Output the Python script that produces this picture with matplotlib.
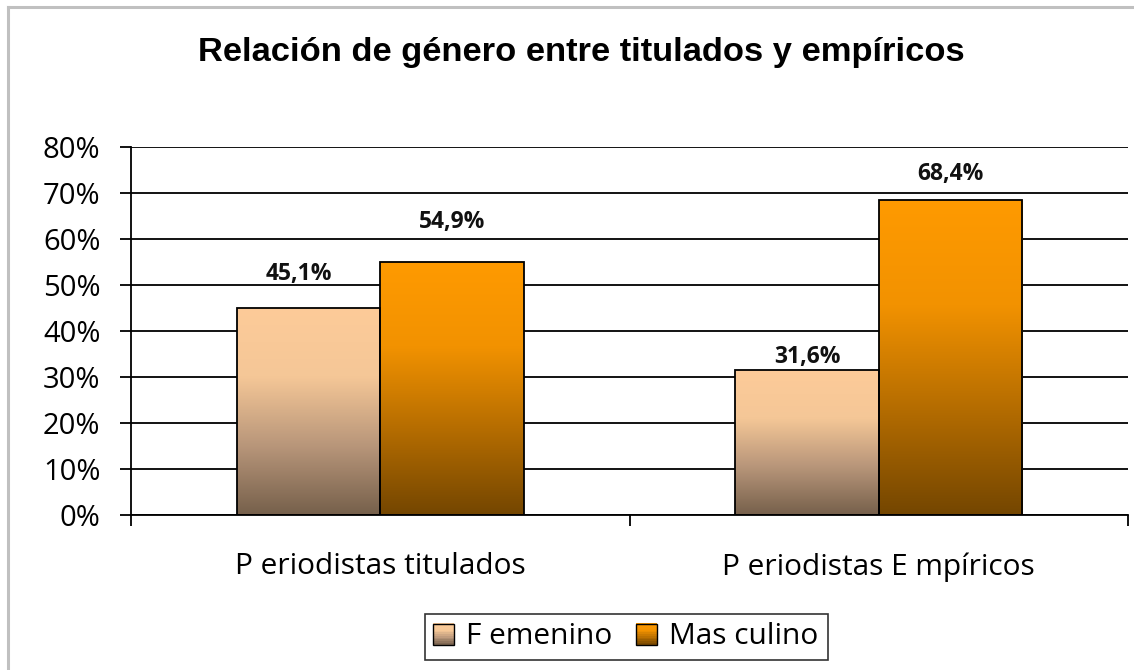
import numpy as np
import matplotlib
matplotlib.use("Agg")
from matplotlib import pyplot as plt
from matplotlib.colors import LinearSegmentedColormap
from matplotlib.patches import Rectangle
from matplotlib.legend_handler import HandlerPatch
from matplotlib.lines import Line2D

categories = ["P eriodistas titulados", "P eriodistas E mpíricos"]
series_names = ["F emenino", "Mas culino"]
femenino = [45.1, 31.6]
masculino = [54.9, 68.4]
yticks = [0, 10, 20, 30, 40, 50, 60, 70, 80]

# label placement (points) as the original chart had them hand-placed
fem_label_offsets = [(-7, 19.5), (0, 5)]
mas_label_offsets = [(0, 24.5), (0, 15)]

grad_fem = LinearSegmentedColormap.from_list("fem", ["#76604B", "#B8967A", "#F5C797", "#FDCB99"])
grad_mas = LinearSegmentedColormap.from_list("mas", ["#744600", "#B46C00", "#F29200", "#FF9A00"])
TEXT_FONT = ["Open Sans", "DejaVu Sans"]


def fill_gradient(ax, bar, cmap):
    x0, y0 = bar.get_x(), bar.get_y()
    w, h = bar.get_width(), bar.get_height()
    grad = np.linspace(0, 1, 256).reshape(-1, 1)
    im = ax.imshow(grad, cmap=cmap, origin="lower", aspect="auto",
                   extent=(x0, x0 + w, y0, y0 + h), zorder=2.5, interpolation="bilinear")
    im.set_clip_path(bar)


class GradientHandler(HandlerPatch):
    def __init__(self, cmap):
        super().__init__()
        self.cmap = cmap

    def create_artists(self, legend, orig_handle, xdescent, ydescent, width, height, fontsize, trans):
        size = height * 1.0
        x0 = -xdescent + (width - size) / 2
        y0 = -ydescent + (height - size) / 2
        arts = []
        n = 12
        for i in range(n):
            r = Rectangle((x0, y0 + size * i / n), size, size / n + 0.2,
                          facecolor=self.cmap((i + 0.5) / n), edgecolor="none", transform=trans)
            arts.append(r)
        arts.append(Rectangle((x0, y0), size, size, facecolor="none", edgecolor="black",
                              linewidth=1.0, transform=trans))
        return arts


fig = plt.figure(figsize=(11.34, 6.70), dpi=100)
ax = fig.add_axes([131 / 1134, 1 - 515 / 670, (1128 - 131) / 1134, (515 - 147) / 670])

x = np.arange(len(categories)) + 0.5
w = 0.288
bars_f = ax.bar(x - w / 2, femenino, w, facecolor="none", edgecolor="black", linewidth=1.3, zorder=3)
bars_m = ax.bar(x + w / 2, masculino, w, facecolor="none", edgecolor="black", linewidth=1.3, zorder=3)

for b in bars_f:
    fill_gradient(ax, b, grad_fem)
for b in bars_m:
    fill_gradient(ax, b, grad_mas)

for bars, vals, offs in ((bars_f, femenino, fem_label_offsets), (bars_m, masculino, mas_label_offsets)):
    for b, v, off in zip(bars, vals, offs):
        ax.annotate(f"{v:.1f}%".replace(".", ","), (b.get_x() + b.get_width() / 2, b.get_height()),
                    xytext=off, textcoords="offset points", ha="center", va="baseline",
                    fontsize=16.5, fontweight="bold", family=TEXT_FONT, color="#111111")

ax.set_xlim(0, len(categories))
ax.set_ylim(0, 80)
ax.set_yticks(yticks)
ax.set_yticklabels([f"{t}%" for t in yticks], family=TEXT_FONT, fontsize=21)
ax.yaxis.grid(True, color="black", linewidth=1.3)
ax.set_axisbelow(True)

ax.set_xticks(np.arange(len(categories) + 1))
ax.set_xticklabels([])
ax.set_xticks(x, minor=True)
ax.set_xticklabels(categories, minor=True, family=TEXT_FONT, fontsize=21.5)
ax.tick_params(axis="x", which="minor", length=0, pad=27)
ax.tick_params(axis="x", which="major", length=8, width=1.3, direction="out")
ax.tick_params(axis="y", length=8, width=1.3, direction="out", pad=14)

for s in ("top", "right"):
    ax.spines[s].set_visible(False)
for s in ("left", "bottom"):
    ax.spines[s].set_linewidth(1.3)

fig.text(581 / 1134, 1 - 53 / 670, "Relación de género entre titulados y empíricos",
         ha="center", va="center", fontsize=24.8, fontweight="bold", family="Liberation Sans")

h1 = Rectangle((0, 0), 1, 1)
h2 = Rectangle((0, 0), 1, 1)
leg = fig.legend([h1, h2], series_names, loc="center", bbox_to_anchor=(626 / 1134, 1 - 637 / 670),
                 ncol=2, frameon=True, fancybox=False, prop={"family": TEXT_FONT, "size": 21.5},
                 handler_map={h1: GradientHandler(grad_fem), h2: GradientHandler(grad_mas)},
                 handlelength=0.7, handleheight=0.7, handletextpad=0.4, columnspacing=0.8,
                 borderpad=0.3, borderaxespad=0)
leg.get_frame().set_edgecolor("black")
leg.get_frame().set_linewidth(1.2)

fig.add_artist(Line2D([8 / 1134, 8 / 1134], [0, 1 - 7 / 670], color="#C0C0C0", linewidth=2.2,
                      transform=fig.transFigure))
fig.add_artist(Line2D([8 / 1134, 1], [1 - 7 / 670, 1 - 7 / 670], color="#C0C0C0", linewidth=2.2,
                      transform=fig.transFigure))

fig.savefig("out.png", dpi=100)
